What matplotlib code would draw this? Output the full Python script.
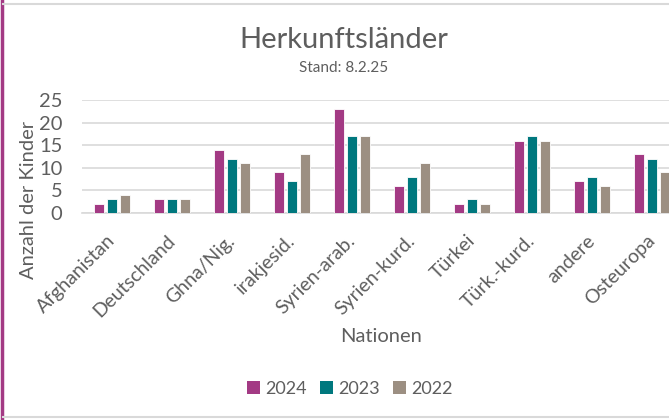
import numpy as np
import matplotlib.pyplot as plt
from matplotlib.lines import Line2D
from matplotlib.patches import Patch

# data
nations = ["Afghanistan", "Deutschland", "Ghna/Nig.", "irakjesid.", "Syrien-arab.",
           "Syrien-kurd.", "Türkei", "Türk.-kurd.", "andere", "Osteuropa"]
years = ["2024", "2023", "2022"]
v2024 = [2, 3, 14, 9, 23, 6, 2, 16, 7, 13]
v2023 = [3, 3, 12, 7, 17, 8, 3, 17, 8, 12]
v2022 = [4, 3, 11, 13, 17, 11, 2, 16, 6, 9]
yticks = [0, 5, 10, 15, 20, 25]

colors = ["#A33A84", "#00787E", "#9C8F82"]
txt = "#5E5E5E"

plt.rcParams['font.family'] = ['Lato', 'DejaVu Sans']

fig = plt.figure(figsize=(6.69, 4.2), dpi=100)
ax = fig.add_axes([82 / 669, 207 / 420, 600 / 669, 113 / 420])

x = np.arange(len(nations))
w = 10 / 60
step = 13 / 60
for i, vals in enumerate([v2024, v2023, v2022]):
    ax.bar(x + (i - 1) * step, vals, width=w, color=colors[i],
           edgecolor="white", linewidth=0.6, zorder=3)

ax.set_xlim(-0.5, len(nations) - 0.5)
ax.set_ylim(0, 25)
ax.set_yticks(yticks)
ax.yaxis.grid(True, color="#D9D9D9", linewidth=1.2, zorder=0)
ax.set_axisbelow(True)
for s in ["left", "right", "top"]:
    ax.spines[s].set_visible(False)
ax.spines["bottom"].set_color("#D9D9D9")
ax.spines["bottom"].set_linewidth(1.2)
ax.tick_params(axis="both", length=0, colors=txt)
ax.tick_params(axis="y", pad=14, labelsize=14.5)
ax.set_xticks(x)
ax.set_xticklabels(nations, rotation=45, ha="right", va="center",
                   rotation_mode="anchor", fontsize=14)
ax.tick_params(axis="x", pad=18)

ax.set_ylabel("Anzahl der Kinder", color=txt, fontsize=14.5)
ax.yaxis.set_label_coords(-0.075, 0.12)
fig.text(381 / 669, 1 - 336 / 420, "Nationen", color=txt, fontsize=14.5,
         ha="center", va="center")

fig.text(344 / 669, 1 - 40 / 420, "Herkunftsländer", color=txt, fontsize=21,
         ha="center", va="center")
fig.text(344 / 669, 1 - 68 / 420, "Stand: 8.2.25", color=txt, fontsize=11,
         ha="center", va="center")

handles = [Patch(facecolor=c, edgecolor="none") for c in colors]
fig.legend(handles, years, loc="center", bbox_to_anchor=(350 / 669, 1 - 389 / 420),
           ncol=3, frameon=False, fontsize=13, labelcolor=txt,
           handlelength=0.7, handleheight=0.7, handletextpad=0.3, columnspacing=0.75)

# frame lines of the original screenshot
fig.add_artist(Line2D([1.5 / 669, 1.5 / 669], [0, 1], color="#A33A84", linewidth=2.5))
fig.add_artist(Line2D([3 / 669, 1], [1 - 4 / 420, 1 - 4 / 420], color="#D9D9D9", linewidth=1.5))
fig.add_artist(Line2D([3 / 669, 1], [1 - 417 / 420, 1 - 417 / 420], color="#D9D9D9", linewidth=1.5))

fig.savefig("out.png", dpi=100)
